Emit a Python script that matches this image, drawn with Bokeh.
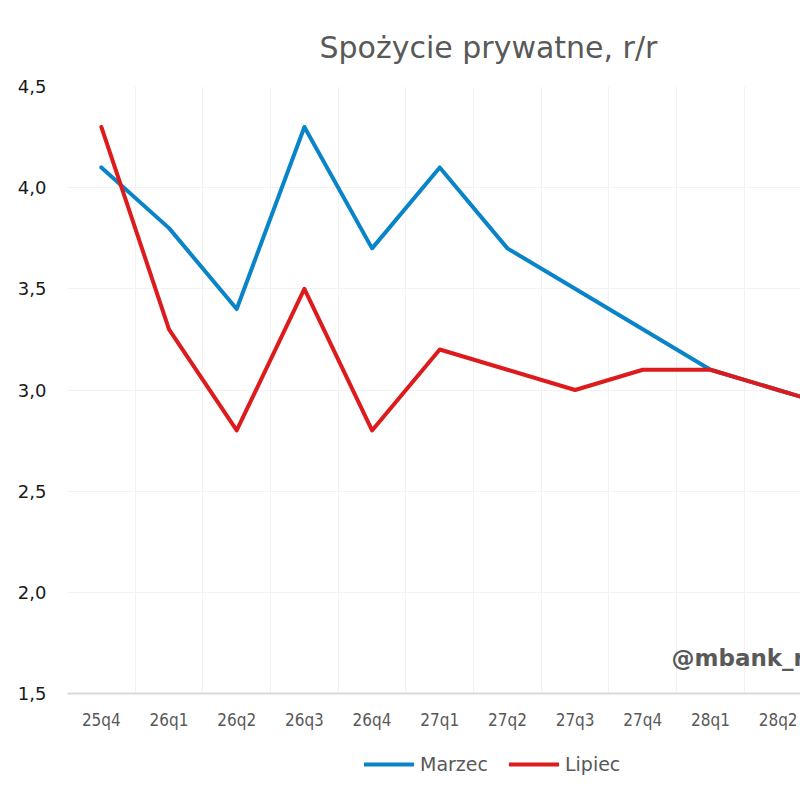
from bokeh.plotting import figure
from bokeh.layouts import column
from bokeh.models import (Range1d, FixedTicker, Legend, LegendItem, Label)
from bokeh.embed import file_html
from bokeh.resources import INLINE

# Quarterly forecasts of private consumption growth, y/y (%)
quarters = ["25q4", "26q1", "26q2", "26q3", "26q4", "27q1", "27q2",
            "27q3", "27q4", "28q1", "28q2", "28q3"]
marzec = [4.1, 3.8, 3.4, 4.3, 3.7, 4.1, 3.7, 3.5, 3.3, 3.1, 3.0, 2.9]
lipiec = [4.3, 3.3, 2.8, 3.5, 2.8, 3.2, 3.1, 3.0, 3.1, 3.1, 3.0, 2.9]
y_ticks = [1.5, 2.0, 2.5, 3.0, 3.5, 4.0, 4.5]
series_names = ["Marzec", "Lipiec"]

x = list(range(len(quarters)))

BLUE = "#0A84C8"
RED = "#DD1A1C"
GREY = "#595959"

p = figure(width=800, height=742, output_backend="svg", toolbar_location=None,
           x_range=Range1d(-0.5, 10.33), y_range=Range1d(1.5, 4.5),
           min_border_left=67, min_border_right=0, min_border_top=86,
           min_border_bottom=49)
p.outline_line_color = None
p.background_fill_color = "white"
p.border_fill_color = "white"

# title
p.title.text = "Spożycie prywatne, r/r"
p.title.align = "left"
p.title.offset = 252
p.title.text_font = "DejaVu Sans"
p.title.text_font_size = "30px"
p.title.text_font_style = "normal"
p.title.text_color = GREY
p.title.standoff = 44

# y axis
p.yaxis.ticker = FixedTicker(ticks=y_ticks)
p.yaxis.major_label_overrides = {t: f"{t:.1f}".replace(".", ",") for t in y_ticks}
p.yaxis.axis_line_color = None
p.yaxis.major_tick_line_color = None
p.yaxis.minor_tick_line_color = None
p.yaxis.major_label_text_font = "DejaVu Sans"
p.yaxis.major_label_text_font_size = "18px"
p.yaxis.major_label_text_color = "#1a1a1a"
p.yaxis.major_label_standoff = 15

# x axis with quarter labels
p.xaxis.ticker = FixedTicker(ticks=x)
p.xaxis.major_label_overrides = {i: q for i, q in enumerate(quarters)}
p.xaxis.axis_line_color = "#d9d9d9"
p.xaxis.axis_line_width = 2
p.xaxis.major_tick_line_color = None
p.xaxis.minor_tick_line_color = None
p.xaxis.major_label_text_font = "DejaVu Sans Condensed"
p.xaxis.major_label_text_font_size = "17px"
p.xaxis.major_label_text_color = GREY
p.xaxis.major_label_standoff = 10

# faint grid: vertical lines between categories
p.xgrid.ticker = FixedTicker(ticks=[i - 0.5 for i in range(len(quarters) + 1)])
p.xgrid.grid_line_color = "#f2f2f2"
p.ygrid.ticker = FixedTicker(ticks=y_ticks[1:])
p.ygrid.grid_line_color = "#f2f2f2"

p.line(x, marzec, line_color=BLUE, line_width=4, line_join="round", line_cap="round")
p.line(x, lipiec, line_color=RED, line_width=4, line_join="round", line_cap="round")

mark = Label(x=604, y=36, x_units="screen", y_units="screen",
             text="@mbank_research", text_font="DejaVu Sans",
             text_font_style="bold", text_font_size="23px", text_color=GREY,
             text_align="left", text_baseline="alphabetic")
p.add_layout(mark)

# legend strip below the chart (series kept outside its visible range,
# only the legend keys show)
leg = figure(width=800, height=58, output_backend="svg", toolbar_location=None,
             x_range=Range1d(0, 1), y_range=Range1d(0, 1),
             x_axis_location=None, y_axis_location=None,
             min_border_left=67, min_border_right=0, min_border_top=0,
             min_border_bottom=0)
leg.outline_line_color = None
leg.xgrid.visible = False
leg.ygrid.visible = False
k1 = leg.line(x, marzec, line_color=BLUE, line_width=4, line_cap="round")
k2 = leg.line(x, lipiec, line_color=RED, line_width=4, line_cap="round")
legend = Legend(items=[LegendItem(label=series_names[0], renderers=[k1]),
                       LegendItem(label=series_names[1], renderers=[k2])],
                orientation="horizontal", location=(297, 25),
                glyph_width=50, glyph_height=20, label_standoff=6, spacing=21,
                padding=0, margin=0,
                label_text_font="DejaVu Sans", label_text_font_size="19px",
                label_text_color=GREY, border_line_alpha=0,
                background_fill_alpha=0)
leg.add_layout(legend, "center")

open("out.html", "w").write(file_html(column(p, leg, spacing=0), INLINE))
